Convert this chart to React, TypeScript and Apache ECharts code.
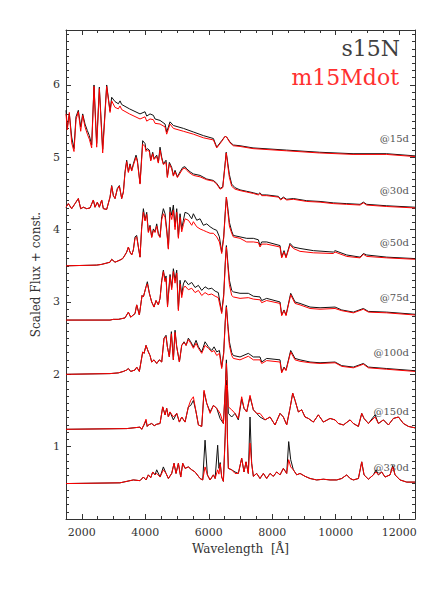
import React, { useEffect, useRef } from "react";
import * as echarts from "echarts";

// ---- tick values ----
const xMajorTicks = [2000, 4000, 6000, 8000, 10000, 12000];
const yMajorTicks = [1, 2, 3, 4, 5, 6];
const epochLabels = ["@15d", "@30d", "@50d", "@75d", "@100d", "@150d", "@330d"];

// ---- spectra: [wavelength (Å), scaled flux + const] ----
const s15N_d15 = [[1500,5.65],[1542,5.42],[1605,5.60],[1679,5.28],[1752,5.12],[1815,5.56],[1889,5.65],[1963,5.42],[2026,5.60],[2099,5.46],[2173,5.37],[2236,5.30],[2309,5.17],[2383,6.00],[2467,5.19],[2551,5.97],[2656,5.11],[2782,6.00],[2888,5.64],[2940,5.83],[3045,5.77],[3150,5.74],[3203,5.78],[3255,5.73],[3500,5.67],[3833,5.60],[3990,5.63],[4044,5.57],[4149,5.60],[4254,5.58],[4306,5.53],[4464,5.51],[4622,5.46],[4674,5.35],[4779,5.49],[4884,5.44],[5200,5.40],[5515,5.35],[5830,5.30],[6146,5.26],[6251,5.14],[6408,5.23],[6513,5.29],[6563,5.28],[6671,5.21],[6774,5.17],[6986,5.16],[7395,5.13],[8446,5.10],[9497,5.07],[10547,5.05],[11598,5.05],[12500,5.02]];
const m15Mdot_d15 = [[1500,5.60],[1542,5.38],[1605,5.62],[1679,5.20],[1752,5.08],[1815,5.52],[1889,5.63],[1963,5.36],[2026,5.58],[2099,5.42],[2173,5.32],[2236,5.25],[2309,5.13],[2383,5.98],[2467,5.14],[2551,5.95],[2656,5.06],[2782,5.98],[2888,5.62],[2940,5.78],[3045,5.69],[3150,5.67],[3203,5.71],[3255,5.66],[3500,5.60],[3833,5.53],[3990,5.56],[4044,5.50],[4149,5.53],[4254,5.52],[4306,5.47],[4464,5.46],[4622,5.42],[4674,5.32],[4779,5.46],[4884,5.40],[5200,5.36],[5515,5.32],[5830,5.27],[6146,5.24],[6251,5.13],[6408,5.22],[6513,5.29],[6563,5.28],[6671,5.20],[6774,5.16],[6986,5.15],[7395,5.12],[8446,5.09],[9497,5.06],[10547,5.04],[11598,5.04],[12500,5.01]];

const s15N_d30 = [[1500,4.31],[1574,4.36],[1679,4.29],[1784,4.36],[1889,4.43],[1963,4.29],[2047,4.31],[2152,4.29],[2257,4.30],[2362,4.41],[2415,4.31],[2488,4.38],[2551,4.31],[2625,4.41],[2677,4.29],[2782,4.28],[2888,4.45],[2940,4.61],[2993,4.47],[3045,4.43],[3119,4.57],[3182,4.61],[3255,4.43],[3308,4.52],[3360,4.80],[3413,4.96],[3466,4.80],[3518,4.91],[3571,4.82],[3623,4.91],[3707,5.03],[3749,4.96],[3833,4.64],[3917,5.23],[3991,5.19],[4022,5.10],[4064,5.12],[4128,5.10],[4170,4.96],[4233,5.07],[4275,4.98],[4359,5.03],[4411,4.93],[4464,5.14],[4517,5.00],[4569,4.91],[4653,4.96],[4695,4.73],[4758,4.93],[4832,4.86],[4884,4.75],[4937,4.82],[5011,4.73],[5095,4.80],[5179,4.86],[5252,4.87],[5305,4.84],[5410,4.80],[5515,4.77],[5725,4.75],[5935,4.70],[6146,4.68],[6251,4.64],[6356,4.57],[6440,4.59],[6500,4.85],[6550,5.07],[6600,4.92],[6650,4.76],[6722,4.63],[6827,4.58],[6985,4.55],[7195,4.53],[7405,4.51],[7562,4.49],[7615,4.51],[7668,4.48],[7825,4.48],[8193,4.46],[8267,4.42],[8351,4.45],[8456,4.42],[8666,4.43],[9087,4.40],[9507,4.39],[9927,4.37],[10348,4.36],[10768,4.35],[10873,4.38],[10978,4.35],[11609,4.33],[12500,4.31]];
const m15Mdot_d30 = [[1500,4.31],[1574,4.36],[1679,4.29],[1784,4.36],[1889,4.43],[1963,4.29],[2047,4.31],[2152,4.29],[2257,4.30],[2362,4.41],[2415,4.31],[2488,4.38],[2551,4.31],[2625,4.41],[2677,4.29],[2782,4.28],[2888,4.45],[2940,4.60],[2993,4.47],[3045,4.43],[3119,4.56],[3182,4.60],[3255,4.43],[3308,4.52],[3360,4.78],[3413,4.94],[3466,4.79],[3518,4.89],[3571,4.81],[3623,4.89],[3707,5.00],[3749,4.94],[3833,4.63],[3917,5.18],[3991,5.15],[4022,5.08],[4064,5.10],[4128,5.08],[4170,4.95],[4233,5.05],[4275,4.97],[4359,5.01],[4411,4.92],[4464,5.10],[4517,4.98],[4569,4.90],[4653,4.93],[4695,4.72],[4758,4.91],[4832,4.84],[4884,4.74],[4937,4.80],[5011,4.72],[5095,4.78],[5179,4.84],[5252,4.85],[5305,4.82],[5410,4.78],[5515,4.75],[5725,4.73],[5935,4.69],[6146,4.67],[6251,4.63],[6356,4.56],[6440,4.58],[6500,4.83],[6550,5.06],[6600,4.88],[6650,4.72],[6722,4.60],[6827,4.56],[6985,4.54],[7195,4.52],[7405,4.50],[7562,4.48],[7615,4.50],[7668,4.47],[7825,4.47],[8193,4.45],[8267,4.41],[8351,4.44],[8456,4.41],[8666,4.42],[9087,4.39],[9507,4.38],[9927,4.36],[10348,4.35],[10768,4.34],[10873,4.37],[10978,4.34],[11609,4.32],[12500,4.30]];

const s15N_d50 = [[1500,3.50],[2467,3.51],[2625,3.52],[2888,3.55],[2940,3.59],[3045,3.55],[3203,3.58],[3287,3.60],[3360,3.65],[3413,3.69],[3466,3.76],[3518,3.69],[3571,3.65],[3623,3.72],[3676,3.90],[3728,3.92],[3781,3.76],[3833,3.62],[3886,4.04],[3939,4.29],[3991,4.13],[4044,4.24],[4096,3.97],[4149,4.06],[4201,3.90],[4254,4.01],[4306,3.97],[4359,4.08],[4411,3.95],[4464,3.90],[4517,4.18],[4569,4.29],[4622,4.22],[4674,4.01],[4727,3.74],[4779,4.31],[4832,4.20],[4884,4.34],[4937,4.04],[4990,4.29],[5042,3.90],[5095,4.22],[5147,4.01],[5200,4.13],[5252,4.24],[5357,4.22],[5462,4.15],[5515,4.22],[5620,4.13],[5725,4.15],[5830,4.06],[5935,4.08],[6041,4.04],[6146,4.01],[6251,3.99],[6335,3.90],[6408,3.69],[6470,3.90],[6520,4.25],[6555,4.45],[6600,4.30],[6650,4.10],[6722,3.98],[6774,3.92],[6985,3.90],[7195,3.88],[7405,3.88],[7562,3.86],[7615,3.78],[7668,3.83],[7825,3.83],[8246,3.78],[8298,3.62],[8372,3.71],[8435,3.62],[8561,3.81],[8666,3.76],[8876,3.74],[9297,3.71],[9927,3.69],[9980,3.71],[10348,3.65],[10768,3.62],[10873,3.67],[10978,3.65],[11609,3.62],[12500,3.60]];
const m15Mdot_d50 = [[1500,3.50],[2467,3.51],[2625,3.52],[2888,3.55],[2940,3.59],[3045,3.55],[3203,3.58],[3287,3.60],[3360,3.65],[3413,3.69],[3466,3.76],[3518,3.69],[3571,3.65],[3623,3.72],[3676,3.88],[3728,3.90],[3781,3.76],[3833,3.62],[3886,4.02],[3939,4.24],[3991,4.12],[4044,4.21],[4096,3.96],[4149,4.04],[4201,3.89],[4254,3.99],[4306,3.96],[4359,4.05],[4411,3.93],[4464,3.89],[4517,4.14],[4569,4.22],[4622,4.17],[4674,3.98],[4727,3.73],[4779,4.24],[4832,4.14],[4884,4.27],[4937,4.00],[4990,4.24],[5042,3.88],[5095,4.17],[5147,3.97],[5200,4.07],[5252,4.15],[5357,4.13],[5462,4.06],[5515,4.11],[5620,4.04],[5725,4.01],[5830,3.99],[5935,3.97],[6041,3.95],[6146,3.95],[6251,3.90],[6335,3.83],[6408,3.67],[6470,3.88],[6520,4.22],[6555,4.45],[6600,4.25],[6650,4.05],[6722,3.95],[6774,3.90],[6985,3.88],[7195,3.83],[7405,3.83],[7562,3.82],[7615,3.76],[7668,3.80],[7825,3.80],[8246,3.76],[8298,3.61],[8372,3.69],[8435,3.61],[8561,3.79],[8666,3.74],[8876,3.70],[9297,3.68],[9927,3.67],[9980,3.69],[10348,3.63],[10768,3.61],[10873,3.66],[10978,3.63],[11609,3.61],[12500,3.59]];

const s15N_d75 = [[1500,2.75],[2888,2.75],[2993,2.76],[3150,2.76],[3255,2.77],[3360,2.78],[3466,2.86],[3539,2.79],[3676,2.84],[3728,2.96],[3812,2.82],[3897,3.09],[3939,3.07],[4022,3.21],[4064,3.28],[4128,3.12],[4201,3.00],[4275,2.93],[4338,3.02],[4411,2.96],[4464,3.05],[4517,3.30],[4569,3.44],[4622,3.30],[4653,3.36],[4700,2.95],[4779,3.38],[4832,3.20],[4884,3.46],[4937,3.30],[4990,3.44],[5042,2.90],[5095,3.30],[5147,3.10],[5200,3.25],[5252,3.30],[5357,3.24],[5462,3.27],[5568,3.20],[5673,3.23],[5778,3.16],[5883,3.21],[5988,3.18],[6093,3.19],[6200,3.15],[6300,3.13],[6408,2.86],[6470,3.10],[6520,3.55],[6555,3.78],[6600,3.55],[6650,3.30],[6722,3.16],[6774,3.14],[6985,3.12],[7247,3.12],[7405,3.08],[7615,3.07],[7668,3.02],[7825,3.05],[8246,3.00],[8298,2.82],[8372,2.89],[8435,2.82],[8582,3.12],[8719,3.00],[8876,2.98],[9192,2.93],[9507,2.92],[9980,2.93],[10190,2.89],[10558,2.86],[10873,2.91],[11031,2.87],[11609,2.86],[12500,2.83]];
const m15Mdot_d75 = [[1500,2.75],[2888,2.75],[2993,2.76],[3150,2.76],[3255,2.77],[3360,2.78],[3466,2.86],[3539,2.79],[3676,2.84],[3728,2.96],[3812,2.82],[3897,3.09],[3939,3.07],[4022,3.21],[4064,3.25],[4128,3.12],[4201,3.00],[4275,2.93],[4338,3.02],[4411,2.96],[4464,3.05],[4517,3.28],[4569,3.42],[4622,3.28],[4653,3.33],[4700,2.93],[4779,3.35],[4832,3.17],[4884,3.42],[4937,3.26],[4990,3.40],[5042,2.88],[5095,3.25],[5147,3.06],[5200,3.19],[5252,3.22],[5357,3.17],[5462,3.19],[5568,3.13],[5673,3.16],[5778,3.09],[5883,3.13],[5988,3.10],[6093,3.11],[6200,3.08],[6300,3.06],[6408,2.84],[6470,3.07],[6520,3.52],[6555,3.76],[6600,3.50],[6650,3.24],[6722,3.09],[6774,3.07],[6985,3.05],[7247,3.06],[7405,3.04],[7615,3.03],[7668,2.99],[7825,3.02],[8246,2.98],[8298,2.81],[8372,2.88],[8435,2.81],[8582,3.10],[8719,2.98],[8876,2.96],[9192,2.91],[9507,2.90],[9980,2.91],[10190,2.88],[10558,2.85],[10873,2.90],[11031,2.86],[11609,2.85],[12500,2.82]];

const s15N_d100 = [[1500,2.00],[2888,2.01],[3150,2.02],[3308,2.04],[3413,2.06],[3466,2.08],[3539,2.04],[3676,2.06],[3728,2.10],[3812,2.04],[3918,2.31],[3960,2.29],[4022,2.40],[4096,2.31],[4149,2.26],[4201,2.17],[4275,2.20],[4359,2.15],[4443,2.20],[4517,2.17],[4590,2.50],[4653,2.54],[4695,2.38],[4758,2.24],[4821,2.59],[4884,2.20],[4937,2.61],[4990,2.38],[5074,2.17],[5147,2.40],[5221,2.45],[5284,2.40],[5357,2.50],[5431,2.45],[5515,2.38],[5599,2.47],[5673,2.38],[5778,2.31],[5883,2.45],[5988,2.38],[6093,2.33],[6167,2.38],[6251,2.31],[6335,2.33],[6408,2.10],[6470,2.30],[6520,2.75],[6555,2.95],[6600,2.70],[6650,2.45],[6722,2.30],[6774,2.26],[6985,2.24],[7247,2.29],[7405,2.24],[7615,2.24],[7668,2.17],[7825,2.22],[8246,2.20],[8298,2.03],[8372,2.10],[8435,2.06],[8582,2.33],[8719,2.22],[8876,2.20],[9192,2.17],[9507,2.16],[9980,2.17],[10190,2.12],[10558,2.10],[10873,2.15],[11031,2.10],[11609,2.08],[12500,2.05]];
const m15Mdot_d100 = [[1500,2.00],[2888,2.01],[3150,2.02],[3308,2.04],[3413,2.06],[3466,2.08],[3539,2.04],[3676,2.06],[3728,2.10],[3812,2.04],[3918,2.31],[3960,2.29],[4022,2.40],[4096,2.31],[4149,2.26],[4201,2.17],[4275,2.20],[4359,2.15],[4443,2.20],[4517,2.17],[4590,2.50],[4653,2.52],[4695,2.38],[4758,2.24],[4821,2.56],[4884,2.20],[4937,2.58],[4990,2.38],[5074,2.17],[5147,2.40],[5221,2.44],[5284,2.40],[5357,2.48],[5431,2.43],[5515,2.36],[5599,2.43],[5673,2.36],[5778,2.29],[5883,2.40],[5988,2.36],[6093,2.31],[6167,2.33],[6251,2.26],[6335,2.29],[6408,2.08],[6470,2.28],[6520,2.72],[6555,2.93],[6600,2.66],[6650,2.40],[6722,2.26],[6774,2.22],[6985,2.20],[7247,2.25],[7405,2.20],[7615,2.20],[7668,2.15],[7825,2.19],[8246,2.17],[8298,2.02],[8372,2.09],[8435,2.05],[8582,2.31],[8719,2.20],[8876,2.18],[9192,2.16],[9507,2.15],[9980,2.16],[10190,2.11],[10558,2.09],[10873,2.14],[11031,2.09],[11609,2.07],[12500,2.04]];

const s15N_d150 = [[1500,1.24],[3413,1.25],[3833,1.27],[3886,1.24],[3960,1.30],[4022,1.36],[4060,1.28],[4096,1.30],[4201,1.32],[4280,1.29],[4359,1.31],[4464,1.32],[4548,1.55],[4622,1.44],[4674,1.53],[4727,1.41],[4779,1.48],[4884,1.37],[4990,1.46],[5074,1.34],[5147,1.41],[5252,1.34],[5357,1.55],[5431,1.57],[5515,1.64],[5599,1.48],[5673,1.30],[5778,1.28],[5851,1.76],[5935,1.60],[6041,1.48],[6146,1.57],[6251,1.53],[6356,1.39],[6461,1.32],[6520,1.80],[6555,2.20],[6590,1.80],[6617,1.46],[6722,1.41],[6827,1.46],[6932,1.37],[7037,1.66],[7111,1.53],[7195,1.48],[7300,1.69],[7405,1.51],[7510,1.46],[7615,1.41],[7773,1.37],[7931,1.41],[8088,1.30],[8246,1.46],[8351,1.41],[8456,1.30],[8561,1.53],[8645,1.74],[8719,1.64],[8824,1.48],[8929,1.51],[9034,1.41],[9139,1.39],[9297,1.34],[9454,1.44],[9612,1.34],[9822,1.39],[9980,1.37],[10085,1.32],[10243,1.30],[10453,1.37],[10558,1.32],[10716,1.28],[10821,1.46],[10894,1.39],[11031,1.32],[11241,1.44],[11346,1.32],[11504,1.37],[11662,1.30],[11819,1.39],[11977,1.41],[12135,1.32],[12292,1.28],[12500,1.26]];
const m15Mdot_d150 = [[1500,1.24],[3413,1.25],[3833,1.27],[3886,1.24],[3960,1.31],[4022,1.38],[4060,1.28],[4096,1.30],[4201,1.32],[4280,1.29],[4359,1.31],[4464,1.32],[4548,1.55],[4622,1.44],[4674,1.53],[4727,1.41],[4779,1.48],[4884,1.41],[4990,1.46],[5074,1.34],[5147,1.41],[5252,1.34],[5357,1.55],[5431,1.64],[5515,1.69],[5599,1.48],[5673,1.30],[5778,1.28],[5851,1.78],[5935,1.60],[6041,1.46],[6146,1.57],[6251,1.53],[6356,1.46],[6461,1.32],[6520,1.78],[6555,2.15],[6590,1.82],[6617,1.55],[6722,1.51],[6827,1.46],[6932,1.39],[7037,1.69],[7111,1.53],[7195,1.48],[7300,1.71],[7405,1.51],[7510,1.46],[7615,1.46],[7773,1.37],[7931,1.41],[8088,1.30],[8246,1.46],[8351,1.41],[8456,1.30],[8561,1.53],[8645,1.74],[8719,1.64],[8824,1.48],[8929,1.51],[9034,1.41],[9139,1.39],[9297,1.34],[9454,1.44],[9612,1.34],[9822,1.39],[9980,1.37],[10085,1.32],[10243,1.30],[10453,1.37],[10558,1.32],[10716,1.28],[10821,1.46],[10894,1.39],[11031,1.32],[11241,1.41],[11346,1.32],[11504,1.37],[11662,1.30],[11819,1.39],[11977,1.41],[12135,1.32],[12292,1.28],[12500,1.26]];

const s15N_d330 = [[1500,0.49],[3200,0.50],[3623,0.54],[3833,0.53],[3939,0.58],[4022,0.54],[4096,0.61],[4170,0.57],[4233,0.65],[4306,0.61],[4359,0.68],[4464,0.58],[4569,0.72],[4653,0.63],[4727,0.56],[4832,0.63],[4905,0.77],[4968,0.63],[5042,0.77],[5116,0.58],[5179,0.77],[5252,0.70],[5357,0.72],[5462,0.68],[5568,0.65],[5725,0.56],[5809,0.54],[5883,1.09],[5956,0.61],[6041,0.54],[6146,0.61],[6200,0.56],[6280,1.02],[6320,0.70],[6360,0.78],[6408,0.58],[6461,0.52],[6520,1.20],[6555,1.92],[6590,1.10],[6617,0.70],[6722,0.68],[6827,0.65],[6932,0.63],[7037,0.84],[7111,0.65],[7174,0.79],[7247,0.63],[7300,1.41],[7352,0.77],[7405,0.59],[7510,0.63],[7615,0.56],[7720,0.63],[7825,0.56],[7931,0.63],[8036,0.59],[8141,0.65],[8246,0.61],[8351,0.70],[8456,0.63],[8519,1.07],[8582,0.82],[8666,0.68],[8771,0.61],[8876,0.63],[9034,0.59],[9192,0.56],[9402,0.54],[9612,0.55],[9822,0.54],[10033,0.54],[10190,0.56],[10348,0.61],[10453,0.56],[10558,0.54],[10716,0.56],[10821,0.79],[10894,0.61],[11031,0.55],[11189,0.61],[11273,0.68],[11346,0.61],[11451,0.65],[11556,0.58],[11714,0.61],[11798,0.74],[11872,0.61],[12029,0.54],[12240,0.51],[12500,0.51]];
const m15Mdot_d330 = [[1500,0.49],[3200,0.50],[3623,0.54],[3833,0.53],[3939,0.58],[4022,0.54],[4096,0.61],[4170,0.57],[4233,0.65],[4306,0.61],[4359,0.63],[4464,0.58],[4569,0.68],[4653,0.63],[4727,0.56],[4832,0.63],[4905,0.77],[4968,0.63],[5042,0.77],[5116,0.58],[5179,0.77],[5252,0.70],[5357,0.72],[5462,0.68],[5568,0.65],[5725,0.56],[5809,0.54],[5883,0.72],[5956,0.61],[6041,0.54],[6146,0.61],[6200,0.56],[6280,0.68],[6320,0.62],[6360,0.76],[6408,0.58],[6461,0.52],[6520,1.15],[6555,1.85],[6590,1.05],[6617,0.70],[6722,0.68],[6827,0.63],[6932,0.63],[7037,0.84],[7111,0.65],[7174,0.79],[7247,0.63],[7300,1.05],[7352,0.77],[7405,0.59],[7510,0.63],[7615,0.56],[7720,0.63],[7825,0.56],[7931,0.63],[8036,0.59],[8141,0.65],[8246,0.61],[8351,0.70],[8456,0.63],[8519,0.82],[8582,0.72],[8666,0.68],[8771,0.61],[8876,0.63],[9034,0.59],[9192,0.56],[9402,0.54],[9612,0.55],[9822,0.54],[10033,0.54],[10190,0.56],[10348,0.61],[10453,0.56],[10558,0.54],[10716,0.56],[10821,0.79],[10894,0.61],[11031,0.55],[11189,0.61],[11273,0.65],[11346,0.61],[11451,0.65],[11556,0.58],[11714,0.61],[11798,0.72],[11872,0.61],[12029,0.54],[12240,0.51],[12500,0.51]];

const s15NSeries = [s15N_d15, s15N_d30, s15N_d50, s15N_d75, s15N_d100, s15N_d150, s15N_d330];
const m15MdotSeries = [m15Mdot_d15, m15Mdot_d30, m15Mdot_d50, m15Mdot_d75, m15Mdot_d100, m15Mdot_d150, m15Mdot_d330];

export default function App() {
  const ref = useRef<HTMLDivElement>(null);
  useEffect(() => {
    const chart = echarts.init(ref.current!, null, { renderer: "svg" });
    const serif = "'DejaVu Serif', serif";
    const axisColor = "#333";
    const X_MIN = 1500, X_MAX = 12500, Y_MIN = 0, Y_MAX = 6.76;

    const xMinor: number[] = [];
    for (let v = 1500; v <= 12500; v += 500) if (v % 2000 !== 0) xMinor.push(v);
    const yMinor: number[] = [];
    for (let k = 1; k <= 67; k++) if (k % 10 !== 0) yMinor.push(k / 10);

    const mkX = (position: string, ticks: number[], len: number, line: boolean, labels: boolean, extra: any = {}) => ({
      type: "value", position, min: X_MIN, max: X_MAX, gridIndex: 0,
      axisLine: { show: line, onZero: false, lineStyle: { color: axisColor, width: 1 } },
      axisTick: { show: true, inside: true, length: len, customValues: ticks, lineStyle: { color: axisColor, width: 1 } },
      axisLabel: labels
        ? { show: true, customValues: xMajorTicks, formatter: (v: number) => String(v), margin: 8, fontFamily: serif, fontSize: 11, color: axisColor }
        : { show: false },
      splitLine: { show: false },
      ...extra,
    });
    const mkY = (position: string, ticks: number[], len: number, line: boolean, labels: boolean, extra: any = {}) => ({
      type: "value", position, min: Y_MIN, max: Y_MAX, gridIndex: 0,
      axisLine: { show: line, onZero: false, lineStyle: { color: axisColor, width: 1 } },
      axisTick: { show: true, inside: true, length: len, customValues: ticks, lineStyle: { color: axisColor, width: 1 } },
      axisLabel: labels
        ? { show: true, customValues: yMajorTicks, formatter: (v: number) => String(v), margin: 6, fontFamily: serif, fontSize: 11, color: axisColor }
        : { show: false },
      splitLine: { show: false },
      ...extra,
    });

    const series: any[] = [];
    s15NSeries.forEach((d, i) => series.push({
      type: "line", name: "s15N " + epochLabels[i], data: d, xAxisIndex: 0, yAxisIndex: 0,
      showSymbol: false, symbol: "none", lineStyle: { color: "#111", width: 1 }, z: 2, silent: true,
    }));
    m15MdotSeries.forEach((d, i) => series.push({
      type: "line", name: "m15Mdot " + epochLabels[i], data: d, xAxisIndex: 0, yAxisIndex: 0,
      showSymbol: false, symbol: "none", lineStyle: { color: "#ff0000", width: 1 }, z: 3, silent: true,
    }));

    const labelY = [138, 190, 242, 297, 352, 411, 467];

    chart.setOption({
      animation: false,
      backgroundColor: "#fff",
      grid: { left: 66, right: 21, top: 30, bottom: 92, containLabel: false },
      xAxis: [
        mkX("bottom", xMajorTicks, 5, true, true, {
          name: "Wavelength  [Å]", nameLocation: "middle", nameGap: 24,
          nameTextStyle: { fontFamily: serif, fontSize: 12, color: axisColor },
        }),
        mkX("bottom", xMinor, 3, false, false),
        mkX("top", xMajorTicks, 5, true, false),
        mkX("top", xMinor, 3, false, false),
      ],
      yAxis: [
        mkY("left", yMajorTicks, 5, true, true, {
          name: "Scaled Flux + const.", nameLocation: "middle", nameGap: 16,
          nameTextStyle: { fontFamily: serif, fontSize: 12, color: axisColor },
        }),
        mkY("left", yMinor, 3, false, false),
        mkY("right", yMajorTicks, 5, true, false),
        mkY("right", yMinor, 3, false, false),
      ],
      series,
      graphic: [
        { type: "text", right: 36, top: 37, style: { text: "s15N", font: "22px 'DejaVu Serif', serif", fill: "#404040" } },
        { type: "text", right: 37, top: 66, style: { text: "m15Mdot", font: "22px 'DejaVu Serif', serif", fill: "#ff3030" } },
        ...epochLabels.map((t, i) => ({
          type: "text", x: 409, y: labelY[i],
          style: { text: t, font: "10px 'DejaVu Serif', serif", fill: "#555", align: "right", verticalAlign: "middle" },
        })),
      ],
    });
    return () => chart.dispose();
  }, []);
  return <div ref={ref} style={{ position: "fixed", left: 0, top: 0, width: 436, height: 611, background: "#fff" }} />;
}
